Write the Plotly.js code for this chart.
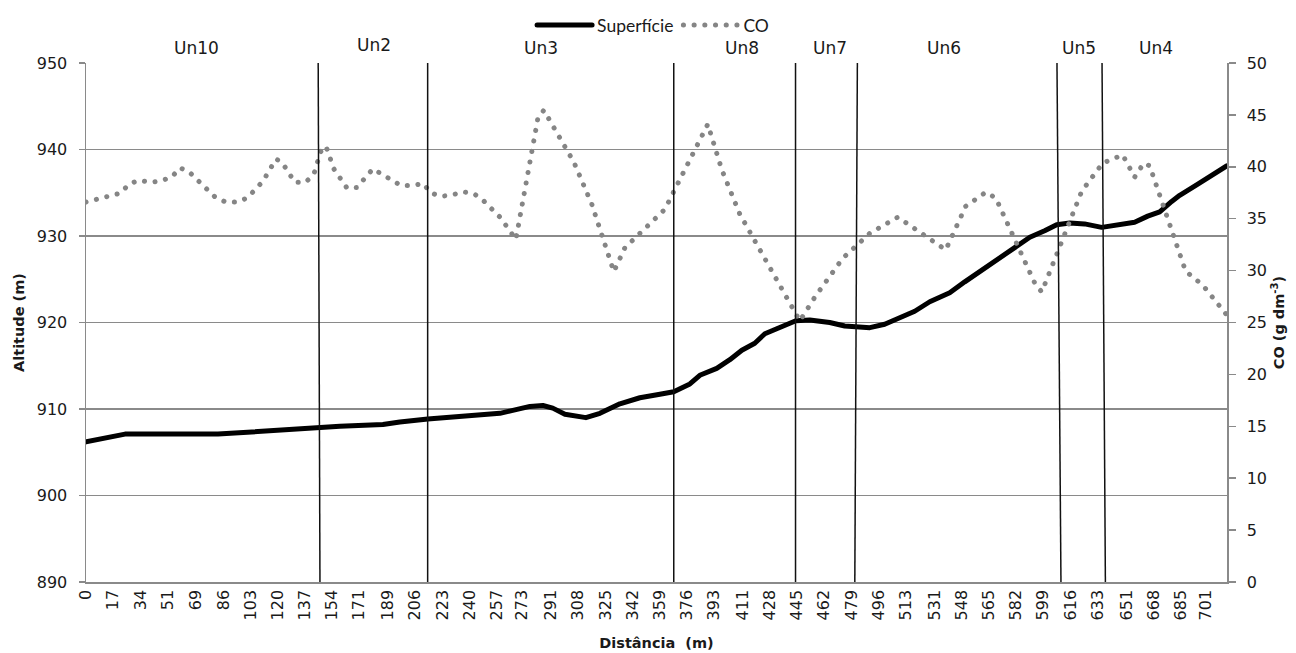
<!DOCTYPE html>
<html>
<head>
<meta charset="utf-8">
<script src="https://cdn.plot.ly/plotly-3.0.1.min.js"></script>
<style>
  html, body { margin: 0; padding: 0; background: #fff; }
  #chart { width: 1296px; height: 653px; }
  .scatterlayer path.js-line, .legend path.js-line { stroke-linecap: round; stroke-linejoin: round; }
</style>
</head>
<body>
<div id="chart"></div>
<script>
// ---- Data ----
const distTickLabels = [0,17,34,51,69,86,103,120,137,154,171,189,206,223,240,257,273,291,308,325,342,359,376,393,411,428,445,462,479,496,513,531,548,565,582,599,616,633,651,668,685,701];

// Superfície (altitude, m) along distance (m)
const surfDist = [0,8.8,18.1,24.4,82.6,99.5,127.6,146.4,158.9,185.8,196.4,213.9,235.2,259.0,277.8,285.9,292.1,299.7,312.8,321.6,334.1,346.6,359.1,367.8,377.9,384.1,394.7,402.9,410.4,418.5,424.8,434.2,444.2,452.9,465.4,474.8,482.9,490.5,499.8,509.2,518.6,528.0,540.5,549.9,562.4,571.8,581.2,590.6,599.9,607.4,615.6,624.9,635.6,646.8,656.2,664.4,671.9,679.4,684.4,695.0,705.0,713.8];
const surfAlt  = [906.2,906.5,906.9,907.1,907.1,907.3,907.6,907.9,908.0,908.2,908.5,908.85,909.2,909.5,910.3,910.4,910.1,909.4,909.0,909.5,910.6,911.3,911.7,912.0,912.9,913.9,914.7,915.7,916.8,917.6,918.7,919.4,920.2,920.3,920.0,919.6,919.5,919.4,919.8,920.5,921.3,922.4,923.45,924.7,926.3,927.5,928.8,929.85,930.6,931.3,931.5,931.4,931.0,931.3,931.6,932.3,932.8,934.0,934.7,935.9,937.05,938.1];

// CO (g dm-3) along distance (m)
const coDist = [0,14.4,21.3,27.5,33.8,40.0,47.5,54.2,58.8,64.6,80.7,87.4,94.5,100.9,110.7,118.9,122.8,130.7,137.4,142.6,146.8,150.1,155.1,163.3,169.5,179.5,184.7,197.1,204.6,211.0,215.6,222.1,229.4,236.0,242.9,249.0,259.4,269.0,282.8,286.5,305.3,316.5,330.3,337.2,362.2,386.0,389.1,397.9,409.1,446.7,456.1,473.6,490.5,508.0,538.0,550.5,563.0,569.3,594.3,598.1,623.1,636.2,648.7,656.2,661.9,665.6,688.1,698.8,714.0];
const coVal  = [36.6,37.1,37.45,38.4,38.7,38.5,38.65,39.1,39.9,39.5,37.1,36.6,36.6,37.0,38.6,40.75,40.4,38.5,38.5,39.3,41.45,42.0,39.8,37.95,38.0,39.8,39.35,38.2,38.2,38.4,37.5,37.15,37.3,37.6,37.4,36.7,35.1,33.0,44.7,45.45,40.45,36.4,29.9,32.2,35.9,43.25,44.1,39.7,35.45,25.15,27.45,31.2,33.6,35.15,32.0,36.2,37.55,37.0,28.6,27.95,37.65,40.35,41.15,39.0,40.35,40.1,29.95,28.6,25.7];

// Stratigraphic units (labels) and their boundaries (m)
const unitNames = ['Un10','Un2','Un3','Un8','Un7','Un6','Un5','Un4'];
const unitLabelDist = [69.4,180.2,284.6,410.4,465.4,536.8,621.2,669.4];
const boundaryDistBottom = [146.4,213.8,367.8,444.0,481.1,610.1,637.9];
const boundaryDistTop    = [145.3,213.8,367.8,444.0,482.7,607.6,635.8];

// ---- Chart ----
const tickFont = {family: 'DejaVu Sans', size: 16, color: '#1a1a1a'};
const titleFont = {family: 'DejaVu Sans', size: 14.5, color: '#1a1a1a', weight: 'bold'};

const traces = [
  {x: surfDist, y: surfAlt, name: 'Superfície', type: 'scatter', mode: 'lines',
   line: {color: '#000000', width: 5}, yaxis: 'y'},
  {x: coDist, y: coVal, name: 'CO', type: 'scatter', mode: 'lines',
   line: {color: '#858585', width: 5, dash: '0.1px,10.6px'}, yaxis: 'y2'}
];

const shapes = boundaryDistBottom.map((b, i) => ({
  type: 'line', xref: 'x', yref: 'paper', x0: b, x1: boundaryDistTop[i], y0: 0, y1: 1,
  line: {color: '#111111', width: 1.5}, layer: 'above'
}));

const unitLabelY = [1.029, 1.035, 1.029, 1.029, 1.029, 1.029, 1.029, 1.029];
const annotations = unitNames.map((n, i) => ({
  text: n, xref: 'x', yref: 'paper', x: unitLabelDist[i], y: unitLabelY[i],
  xanchor: 'center', yanchor: 'middle', showarrow: false,
  font: {family: 'DejaVu Sans', size: 17, color: '#1a1a1a'}
}));

const layout = {
  width: 1296, height: 653,
  margin: {l: 86, r: 69, t: 63, b: 71, autoexpand: false},
  paper_bgcolor: '#ffffff', plot_bgcolor: '#ffffff',
  showlegend: true,
  legend: {orientation: 'h', x: 0.497, xanchor: 'center', y: 1.073, yanchor: 'middle',
           font: {family: 'Lato', size: 17.5, color: '#1a1a1a'}, itemwidth: 55,
           bgcolor: 'rgba(0,0,0,0)', tracegroupgap: 0},
  xaxis: {
    range: [0, 714], tickmode: 'array', tickvals: distTickLabels,
    ticktext: distTickLabels.map(String), tickangle: -90, ticks: '',
    tickfont: tickFont, showgrid: false, zeroline: false,
    showline: true, linecolor: '#8a8a8a', linewidth: 1.5,
    title: {text: 'Distância  (m)', font: titleFont, standoff: 18}
  },
  yaxis: {
    range: [890, 950], dtick: 10, tick0: 890, ticks: 'outside', ticklen: 6,
    tickcolor: '#8a8a8a', tickwidth: 1.5, tickfont: tickFont, ticklabelstandoff: 8,
    showgrid: true, gridcolor: '#8a8a8a', gridwidth: 1.5, zeroline: false,
    showline: true, linecolor: '#8a8a8a', linewidth: 1.5,
    title: {text: 'Altitude (m)', font: titleFont, standoff: 8}
  },
  yaxis2: {
    range: [0, 50], dtick: 5, tick0: 0, overlaying: 'y', side: 'right',
    ticks: 'outside', ticklen: 7, tickcolor: '#8a8a8a', tickwidth: 1.5,
    tickfont: tickFont, ticklabelstandoff: 8,
    showgrid: false, zeroline: false, showline: true, linecolor: '#8a8a8a', linewidth: 1.5,
    title: {text: 'CO (g dm<sup>-3</sup>)', font: titleFont, standoff: 8}
  },
  shapes: shapes,
  annotations: annotations
};

Plotly.newPlot('chart', traces, layout, {staticPlot: true, displayModeBar: false});
</script>
</body>
</html>
